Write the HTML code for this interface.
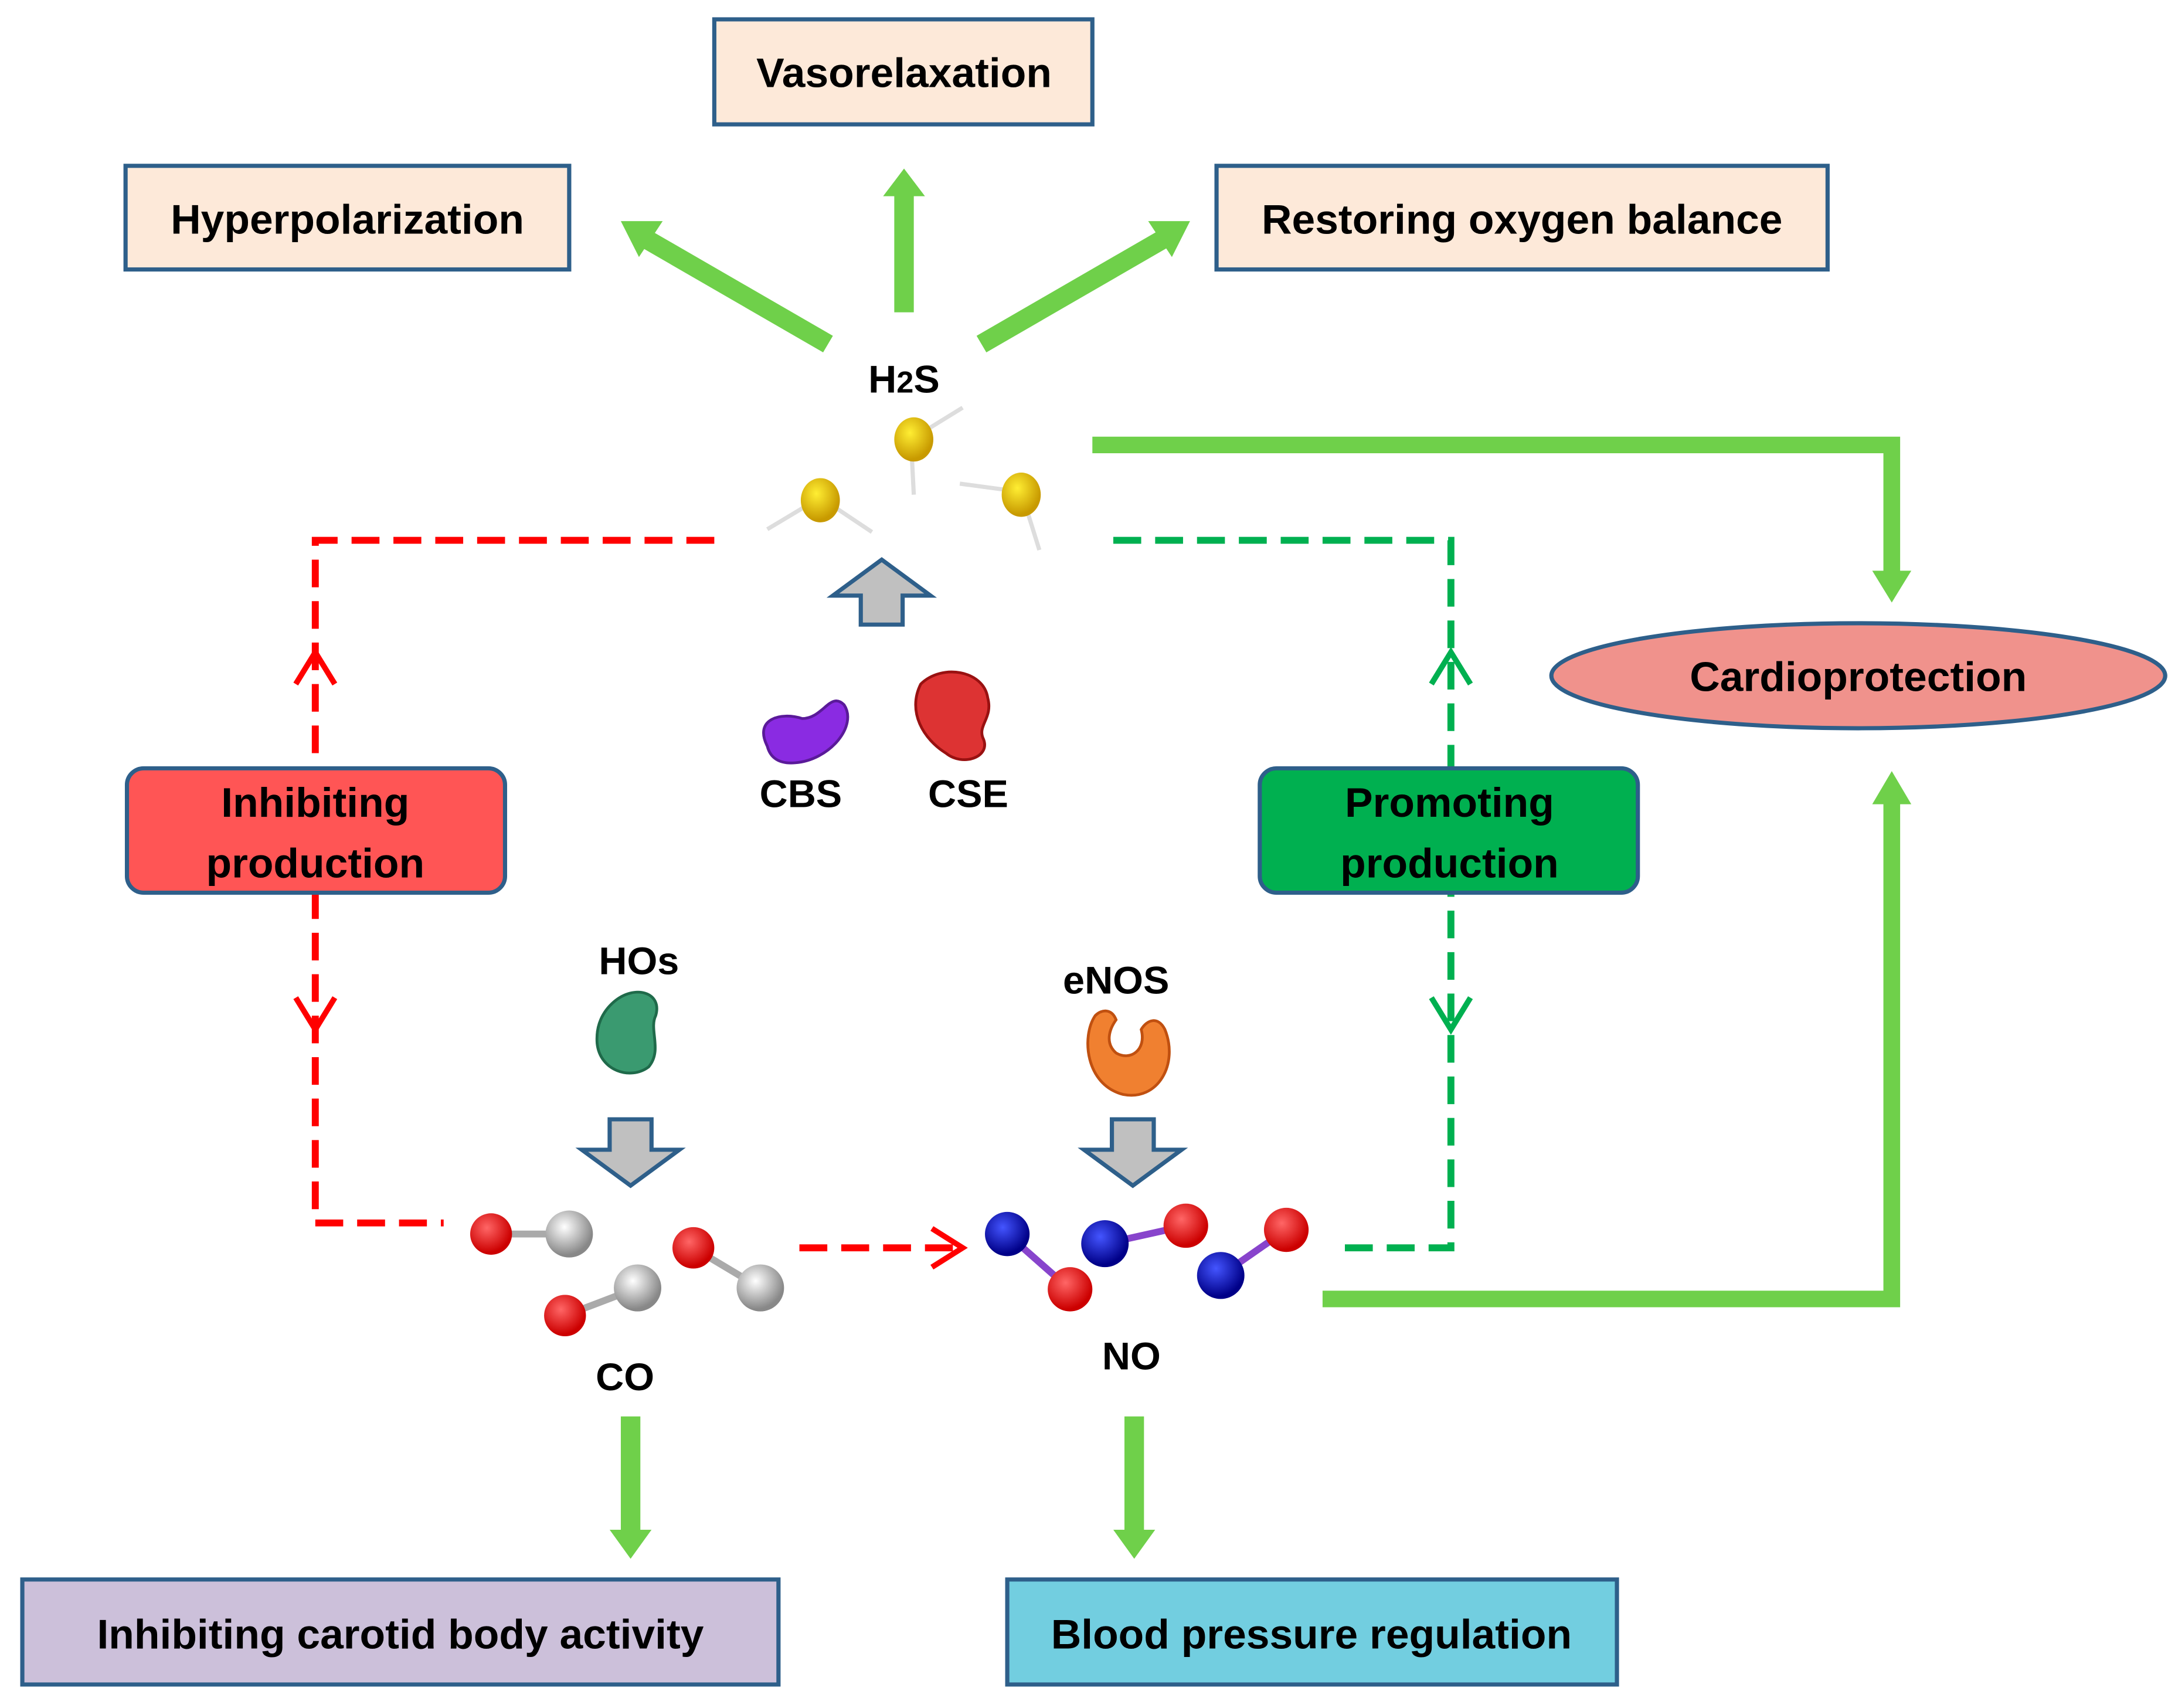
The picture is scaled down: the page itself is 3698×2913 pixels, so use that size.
<!DOCTYPE html>
<html><head><meta charset="utf-8"><style>
html,body{margin:0;padding:0;background:#fff;}
svg{display:block;}
text{font-family:"Liberation Sans",sans-serif;font-weight:bold;fill:#000;}
</style></head><body>
<svg width="3698" height="2913" viewBox="0 0 1554 1236" preserveAspectRatio="none" xmlns="http://www.w3.org/2000/svg">
<defs>
<radialGradient id="gy" cx="0.4" cy="0.35" r="0.6"><stop offset="0" stop-color="#ffee33"/><stop offset="1" stop-color="#c89a00"/></radialGradient>
<radialGradient id="gr" cx="0.4" cy="0.35" r="0.6"><stop offset="0" stop-color="#ff6666"/><stop offset="1" stop-color="#cc0000"/></radialGradient>
<radialGradient id="gg" cx="0.4" cy="0.35" r="0.6"><stop offset="0" stop-color="#ffffff"/><stop offset="1" stop-color="#888"/></radialGradient>
<radialGradient id="gb" cx="0.4" cy="0.35" r="0.6"><stop offset="0" stop-color="#4455ff"/><stop offset="1" stop-color="#000088"/></radialGradient>
</defs>
<!-- dashed lines -->
<g fill="none" stroke-width="5" stroke-dasharray="20,10">
<polyline points="512,391 226,391 226,885 318,885" stroke="#ff0000"/>
<line x1="573" y1="903" x2="688" y2="903" stroke="#ff0000"/>
<polyline points="798,391 1040,391 1040,903 955,903" stroke="#00b050"/>
</g>
<g fill="none" stroke-width="4">
<polyline points="212,495 226,472 240,495" stroke="#ff0000"/>
<polyline points="212,722 226,745 240,722" stroke="#ff0000"/>
<polyline points="668,889 690,903 668,917" stroke="#ff0000"/>
<polyline points="1026,495 1040,472 1054,495" stroke="#00b050"/>
<polyline points="1026,722 1040,745 1054,722" stroke="#00b050"/>
</g>
<g stroke="#2e5f8a" stroke-width="3">
<rect x="512" y="14" width="271" height="76" fill="#fde9d9"/>
<rect x="90" y="120" width="318" height="75" fill="#fde9d9"/>
<rect x="872" y="120" width="438" height="75" fill="#fde9d9"/>
<rect x="16" y="1143" width="542" height="76" fill="#ccc0da"/>
<rect x="722" y="1143" width="437" height="76" fill="#72cee0"/>
<ellipse cx="1332" cy="489" rx="220" ry="38" fill="#f0928c"/>
<rect x="91" y="556" width="271" height="90" rx="12" fill="#ff5555"/>
<rect x="903" y="556" width="271" height="90" rx="12" fill="#00b050"/>
</g>
<g font-size="30" text-anchor="middle">
<text x="648" y="63">Vasorelaxation</text>
<text x="249" y="169">Hyperpolarization</text>
<text x="1091" y="169">Restoring oxygen balance</text>
<text x="287" y="1193">Inhibiting carotid body activity</text>
<text x="940" y="1193">Blood pressure regulation</text>
<text x="1332" y="500">Cardioprotection</text>
<text x="226" y="591">Inhibiting</text>
<text x="226" y="635">production</text>
<text x="1039" y="591">Promoting</text>
<text x="1039" y="635">production</text>
<text x="648" y="284" font-size="28">H<tspan font-size="22">2</tspan>S</text>
<text x="574" y="584" font-size="28">CBS</text>
<text x="694" y="584" font-size="28">CSE</text>
<text x="458" y="705" font-size="28">HOs</text>
<text x="800" y="719" font-size="28">eNOS</text>
<text x="448" y="1006" font-size="28">CO</text>
<text x="811" y="991" font-size="28">NO</text>
</g>
<!-- green arrows -->
<g fill="#6fd04a" stroke="none">
<rect x="641" y="140" width="14" height="86"/><polygon points="633,142 648,122 663,142"/>
<polygon points="597,243 590,255 458,178 465,166"/><polygon points="445,160 475,160 458,186"/>
<polygon points="700,243 707,255 839,178 832,166"/><polygon points="853,160 823,160 840,186"/>
<polygon points="783,316 1362,316 1362,415 1350,415 1350,328 783,328"/>
<polygon points="1342,413 1370,413 1356,436"/>
<polygon points="948,934 1350,934 1350,580 1362,580 1362,946 948,946"/>
<polygon points="1342,582 1370,582 1356,558"/>
<rect x="445" y="1025" width="14" height="84"/><polygon points="437,1107 467,1107 452,1128"/>
<rect x="806" y="1025" width="14" height="84"/><polygon points="798,1107 828,1107 813,1128"/>
</g>
<!-- gray block arrows -->
<g fill="#c0c0c0" stroke="#2e5f8a" stroke-width="3">
<polygon points="632,405 667,431 647,431 647,452 617,452 617,431 597,431"/>
<polygon points="437,810 467,810 467,832 487,832 452,858 417,832 437,832"/>
<polygon points="797,810 827,810 827,832 847,832 812,858 777,832 797,832"/>
</g>
<!-- H2S molecules -->
<g stroke="#ddd" stroke-width="3">
<line x1="653" y1="318" x2="690" y2="295"/><line x1="653" y1="318" x2="655" y2="358"/>
<line x1="588" y1="360" x2="550" y2="383"/><line x1="588" y1="360" x2="625" y2="385"/>
<line x1="732" y1="356" x2="688" y2="350"/><line x1="732" y1="356" x2="745" y2="398"/>
</g>
<g fill="url(#gy)"><ellipse cx="655" cy="318" rx="14" ry="16"/><ellipse cx="588" cy="362" rx="14" ry="16"/><ellipse cx="732" cy="358" rx="14" ry="16"/></g>
<!-- enzymes -->
<path d="M550,540 C540,520 560,515 575,520 C590,520 595,500 605,510 C615,525 595,550 570,552 C558,553 552,548 550,540Z" fill="#8a2be2" stroke="#5a1a99" stroke-width="2"/>
<path d="M660,495 C675,480 705,485 708,505 C712,520 700,525 705,535 C710,548 690,555 678,545 C662,535 650,515 660,495Z" fill="#dd3333" stroke="#991111" stroke-width="2"/>
<path d="M440,725 C455,712 475,718 470,735 C465,745 475,760 465,772 C452,782 430,775 428,755 C427,742 432,732 440,725Z" fill="#3a9a70" stroke="#1f6a4a" stroke-width="2"/>
<path d="M785,735 C775,750 778,785 805,792 C830,797 845,770 835,745 C830,735 822,738 818,745 C822,760 810,768 800,762 C792,755 795,745 800,738 C797,730 790,730 785,735Z" fill="#f08030" stroke="#c05010" stroke-width="2"/>
<!-- CO molecules -->
<g stroke="#aaa" stroke-width="5">
<line x1="352" y1="893" x2="408" y2="893"/><line x1="405" y1="952" x2="457" y2="932"/><line x1="497" y1="903" x2="545" y2="932"/>
</g>
<g>
<circle cx="352" cy="893" r="15" fill="url(#gr)"/><circle cx="408" cy="893" r="17" fill="url(#gg)"/>
<circle cx="405" cy="952" r="15" fill="url(#gr)"/><circle cx="457" cy="932" r="17" fill="url(#gg)"/>
<circle cx="497" cy="903" r="15" fill="url(#gr)"/><circle cx="545" cy="932" r="17" fill="url(#gg)"/>
</g>
<!-- NO molecules -->
<g stroke-width="5">
<line x1="722" y1="893" x2="767" y2="933" stroke="#8844cc"/>
<line x1="792" y1="900" x2="850" y2="887" stroke="#8844cc"/>
<line x1="875" y1="923" x2="922" y2="890" stroke="#8844cc"/>
</g>
<g>
<circle cx="722" cy="893" r="16" fill="url(#gb)"/><circle cx="767" cy="933" r="16" fill="url(#gr)"/>
<circle cx="792" cy="900" r="17" fill="url(#gb)"/><circle cx="850" cy="887" r="16" fill="url(#gr)"/>
<circle cx="875" cy="923" r="17" fill="url(#gb)"/><circle cx="922" cy="890" r="16" fill="url(#gr)"/>
</g>
</svg>
</body></html>
